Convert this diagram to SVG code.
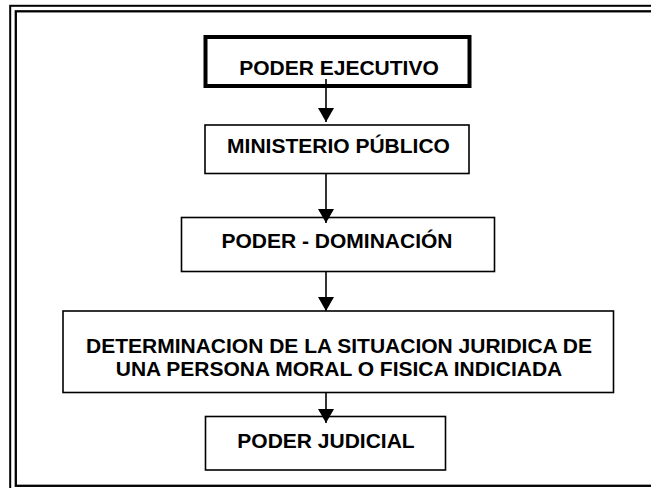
<svg xmlns="http://www.w3.org/2000/svg" width="651" height="488" viewBox="0 0 651 488">
<defs>
<style>
.frame{fill:none;stroke:#000}
.box{fill:#fff;stroke:#000;stroke-width:1.6}
.lbl{font-family:"Liberation Sans",Arial,sans-serif;font-weight:bold;font-size:21px;fill:#000;text-anchor:middle}
.conn{stroke:#000;stroke-width:1.6;fill:none}
</style>
<marker id="ah" viewBox="0 0 14 16" refX="14" refY="8" markerWidth="14" markerHeight="16" markerUnits="userSpaceOnUse" orient="auto">
<path d="M0,0 L14,8 L0,16 Z" fill="#000"/>
</marker>
</defs>
<rect width="651" height="488" fill="#fff"/>
<rect class="frame" x="10.2" y="5.8" width="700" height="500" stroke-width="2"/>
<rect class="frame" x="15.8" y="11.3" width="700" height="474.5" stroke-width="2.3"/>
<g id="n1">
<rect x="205.5" y="37" width="264" height="49" fill="#fff" stroke="#000" stroke-width="4"/>
<text class="lbl" x="339" y="75">PODER EJECUTIVO</text>
</g>
<g id="n2">
<rect class="box" x="205" y="125" width="264" height="48.5"/>
<text class="lbl" x="338.5" y="152.5">MINISTERIO PÚBLICO</text>
</g>
<g id="n3">
<rect class="box" x="181.5" y="217.5" width="313" height="54"/>
<text class="lbl" x="337" y="248">PODER - DOMINACIÓN</text>
</g>
<g id="n4">
<rect class="box" x="63" y="311" width="550.5" height="81.5"/>
<text class="lbl" x="339" y="353">DETERMINACION DE LA SITUACION JURIDICA DE</text>
<text class="lbl" x="339" y="376">UNA PERSONA MORAL O FISICA INDICIADA</text>
</g>
<g id="n5">
<rect class="box" x="205.5" y="416.5" width="240" height="53.5"/>
<text class="lbl" x="326" y="448">PODER JUDICIAL</text>
</g>
<g id="connectors">
<line class="conn" x1="326" y1="79" x2="326" y2="122" marker-end="url(#ah)"/>
<line class="conn" x1="326" y1="173" x2="326" y2="223" marker-end="url(#ah)"/>
<line class="conn" x1="326" y1="272" x2="326" y2="311" marker-end="url(#ah)"/>
<line class="conn" x1="326" y1="392.5" x2="326" y2="423" marker-end="url(#ah)"/>
</g>
</svg>
